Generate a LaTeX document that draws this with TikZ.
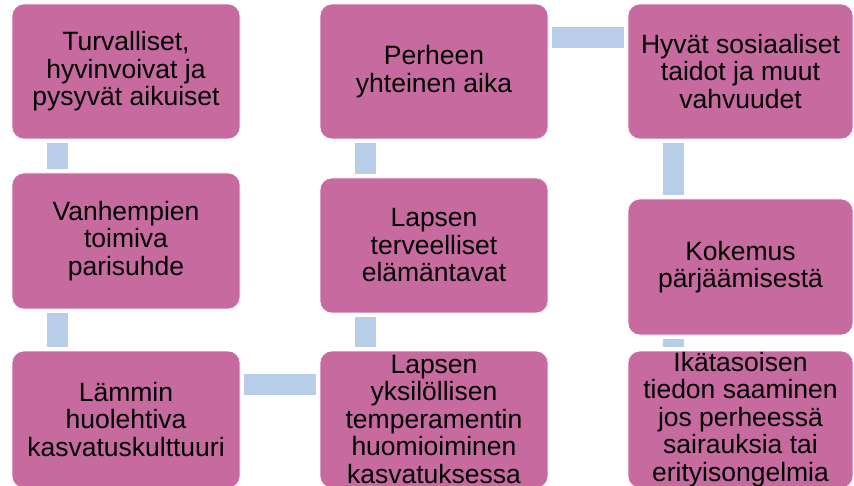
\documentclass[tikz,border=0pt]{standalone}
\usepackage{fontspec}
\setmainfont{Liberation Sans}
\definecolor{boxpink}{RGB}{198,106,160}
\definecolor{connblue}{RGB}{183,205,232}
\begin{document}
\begin{tikzpicture}[x=1pt,y=-1pt,
  box/.style={draw=white,line width=0.6pt,fill=boxpink,rounded corners=12pt,inner sep=0pt},
  txt/.style={inner sep=0pt,align=center,text=black,font=\fontsize{26.5}{27.5}\selectfont},
  conn/.style={draw=connblue,line width=21pt,line cap=butt,shorten <=3.5pt,shorten >=3.5pt}]
\useasboundingbox (0,0) rectangle (854,486);
% boxes
\path[box] (12,4) rectangle (240,139);
\node[inner sep=0pt,minimum width=228pt,minimum height=135pt] (b1) at (126,71.5) {};
\path[box] (12,173) rectangle (240,309);
\node[inner sep=0pt,minimum width=228pt,minimum height=136pt] (b2) at (126,241) {};
\path[box] (12,351) rectangle (240,488);
\node[inner sep=0pt,minimum width=228pt,minimum height=137pt] (b3) at (126,419.5) {};
\path[box] (320,351) rectangle (548,488);
\node[inner sep=0pt,minimum width=228pt,minimum height=137pt] (b4) at (434,419.5) {};
\path[box] (320,178) rectangle (548,313);
\node[inner sep=0pt,minimum width=228pt,minimum height=135pt] (b5) at (434,245.5) {};
\path[box] (320,4) rectangle (548,139);
\node[inner sep=0pt,minimum width=228pt,minimum height=135pt] (b6) at (434,71.5) {};
\path[box] (628,4) rectangle (853,139);
\node[inner sep=0pt,minimum width=225pt,minimum height=135pt] (b7) at (740.5,71.5) {};
\path[box] (628,199) rectangle (853,335);
\node[inner sep=0pt,minimum width=225pt,minimum height=136pt] (b8) at (740.5,267) {};
\path[box] (628,351) rectangle (853,488);
\node[inner sep=0pt,minimum width=225pt,minimum height=137pt] (b9) at (740.5,419.5) {};
% texts
\node[txt] (t1) at (b1.center) {Turvalliset,\\hyvinvoivat ja\\pysyvät aikuiset};
\node[txt] (t2) at (b2.center) {Vanhempien\\toimiva\\parisuhde};
\node[txt] (t3) at (b3.center) {Lämmin\\huolehtiva\\kasvatuskulttuuri};
\node[txt] (t4) at (b4.center) {Lapsen\\yksilöllisen\\temperamentin\\huomioiminen\\kasvatuksessa};
\node[txt] (t5) at (b5.center) {Lapsen\\terveelliset\\elämäntavat};
\node[txt] (t6) at (b6.center) {Perheen\\yhteinen aika};
\node[txt] (t7) at (b7.center) {Hyvät sosiaaliset\\taidot ja muut\\vahvuudet};
\node[txt] (t8) at (b8.center) {Kokemus\\pärjäämisestä};
\node[txt] (t9) at (b9.center) {Ikätasoisen\\tiedon saaminen\\jos perheessä\\sairauksia tai\\erityisongelmia};
% connectors
\draw[conn] ([xshift=-68.5pt]b1.south) -- ([xshift=-68.5pt]b2.north);
\draw[conn] ([xshift=-68.5pt]b2.south) -- ([xshift=-68.5pt]b2.south |- b3.north);
\draw[conn] ([yshift=35pt]b3.east) -- ([yshift=35pt]b3.east -| b4.west);
\draw[conn] ([xshift=-68.5pt]b4.north) -- ([xshift=-68.5pt]b4.north |- b5.south);
\draw[conn] ([xshift=-68.5pt]b5.north) -- ([xshift=-68.5pt]b5.north |- b6.south);
\draw[conn] ([yshift=34pt]b6.east) -- ([yshift=34pt]b6.east -| b7.west);
\draw[conn] ([xshift=-67pt]b7.south) -- ([xshift=-67pt]b7.south |- b8.north);
\draw[conn] ([xshift=-67pt]b8.south) -- ([xshift=-67pt]b8.south |- b9.north);
\end{tikzpicture}
\end{document}
